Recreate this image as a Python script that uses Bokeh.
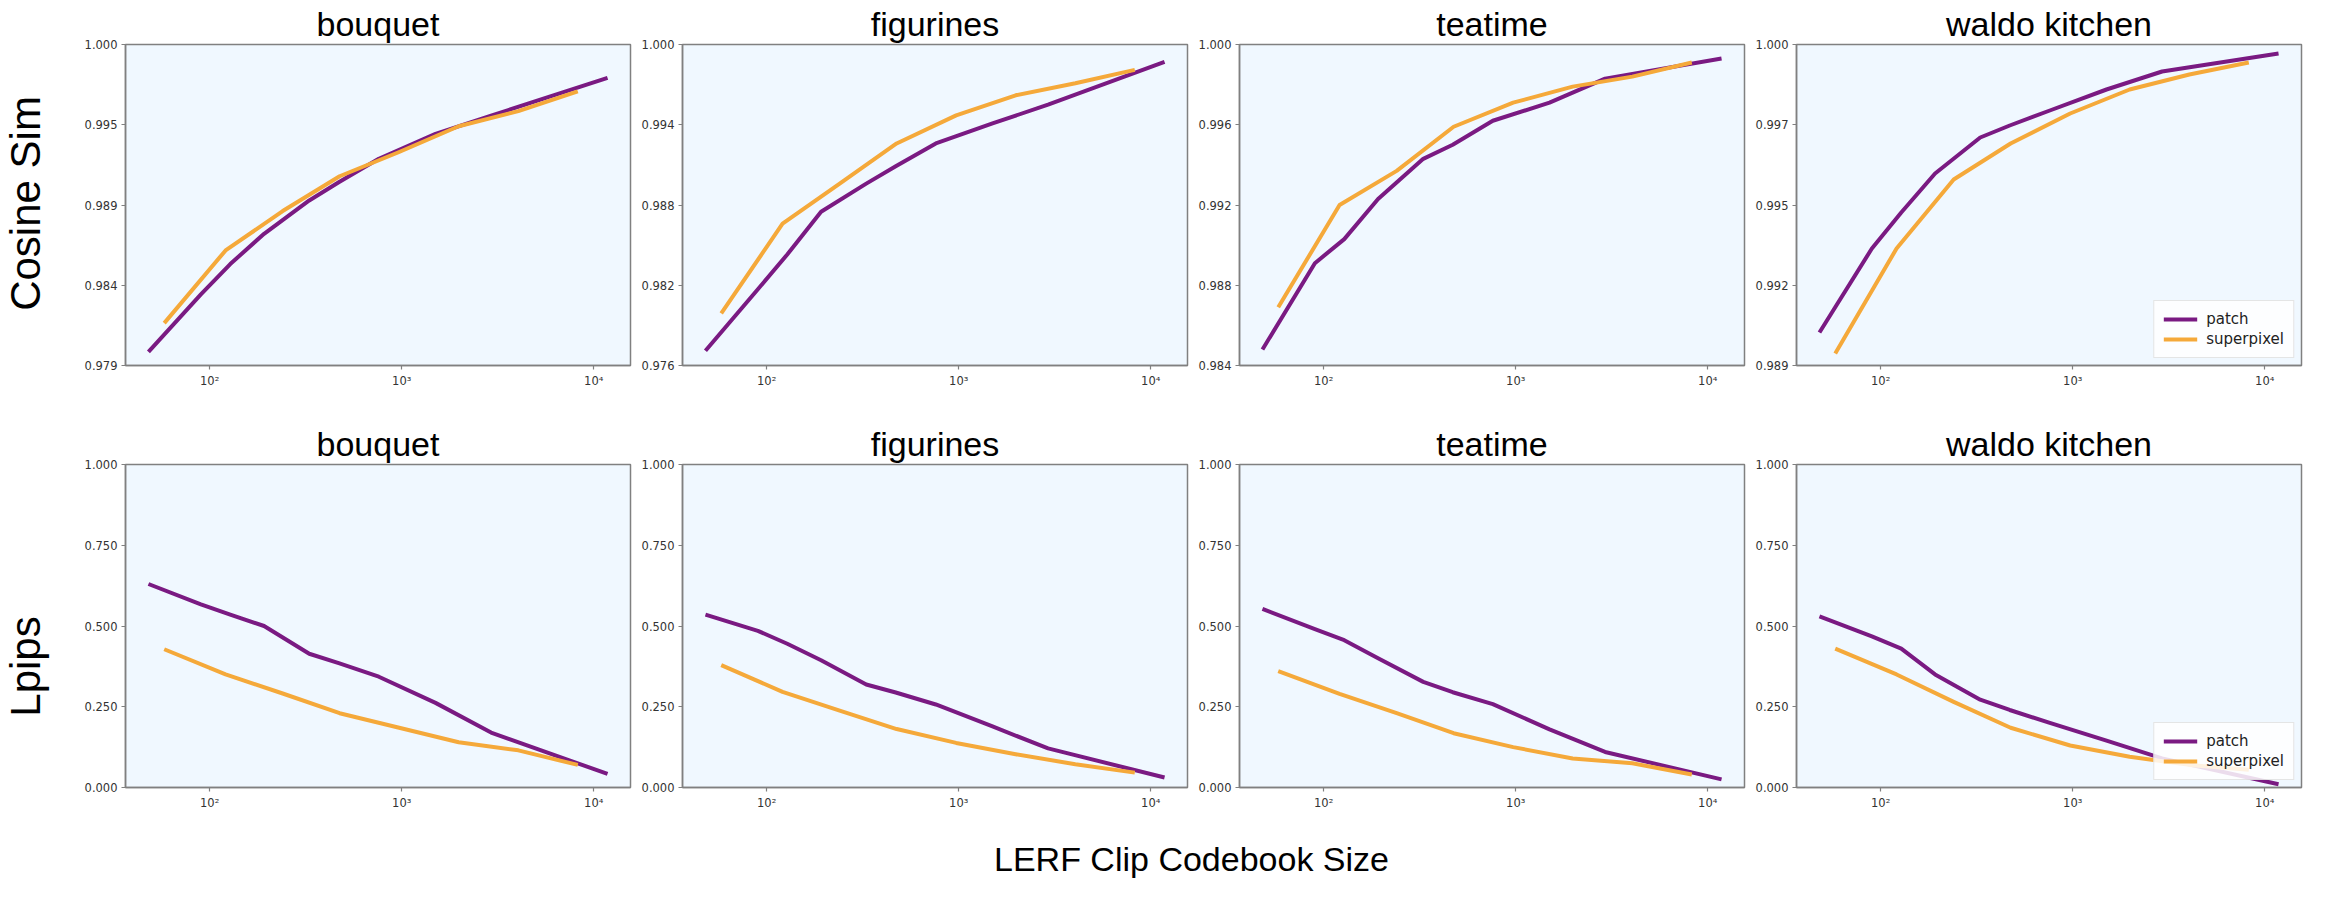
import math
from bokeh.plotting import figure
from bokeh.models import Range1d, FixedTicker, NumeralTickFormatter, Label
from bokeh.layouts import row, column
from bokeh.embed import file_html
from bokeh.resources import INLINE

# ---------------- data ----------------
scenes = ["bouquet", "figurines", "teatime", "waldo kitchen"]
series_labels = ["patch", "superpixel"]
row_labels = ["Cosine Sim", "Lpips"]
x_label = "LERF Clip Codebook Size"

codebook_patch = [48, 90, 128, 192, 330, 470, 760, 1500, 2920, 11800]
codebook_superpixel = [58, 121, 240, 475, 970, 1980, 4050, 8260]

cos_patch_bouquet = [0.9797, 0.9835, 0.9855, 0.9875, 0.9897, 0.9909, 0.99245, 0.9941, 0.9953, 0.9978]
cos_patch_figurines = [0.9771, 0.9817, 0.9843, 0.9875, 0.9896, 0.9909, 0.9926, 0.9941, 0.9955, 0.9987]
cos_patch_teatime = [0.9848, 0.9891, 0.9903, 0.9923, 0.9943, 0.9950, 0.9962, 0.9971, 0.9983, 0.9993]
cos_patch_waldo = [0.9904, 0.9932, 0.9944, 0.9957, 0.9969, 0.9973, 0.9978, 0.9985, 0.9991, 0.9997]

cos_sp_bouquet = [0.9816, 0.9864, 0.9890, 0.9913, 0.9929, 0.9946, 0.9956, 0.9969]
cos_sp_figurines = [0.9799, 0.9866, 0.9896, 0.9926, 0.9947, 0.9962, 0.9971, 0.9981]
cos_sp_teatime = [0.9869, 0.9920, 0.9937, 0.9959, 0.9971, 0.9979, 0.9984, 0.9991]
cos_sp_waldo = [0.9897, 0.9932, 0.9955, 0.9967, 0.9977, 0.9985, 0.9990, 0.9994]

lpips_patch_bouquet = [0.630, 0.567, 0.535, 0.500, 0.414, 0.385, 0.343, 0.262, 0.170, 0.042]
lpips_patch_figurines = [0.535, 0.485, 0.445, 0.394, 0.319, 0.294, 0.257, 0.189, 0.121, 0.031]
lpips_patch_teatime = [0.553, 0.490, 0.456, 0.400, 0.327, 0.295, 0.258, 0.180, 0.110, 0.025]
lpips_patch_waldo = [0.530, 0.468, 0.430, 0.350, 0.272, 0.240, 0.200, 0.145, 0.090, 0.010]

lpips_sp_bouquet = [0.428, 0.350, 0.291, 0.230, 0.185, 0.140, 0.115, 0.070]
lpips_sp_figurines = [0.379, 0.296, 0.238, 0.181, 0.138, 0.103, 0.072, 0.046]
lpips_sp_teatime = [0.360, 0.290, 0.230, 0.168, 0.125, 0.090, 0.075, 0.040]
lpips_sp_waldo = [0.430, 0.350, 0.265, 0.185, 0.130, 0.095, 0.070, 0.055]

cos_ymin = [0.9788, 0.976, 0.984, 0.9893]
lpips_ymin = [0.0, 0.0, 0.0, 0.0]
x_ticks = [100, 1000, 10000]
x_tick_labels = ["10²", "10³", "10⁴"]

cos_patch = [cos_patch_bouquet, cos_patch_figurines, cos_patch_teatime, cos_patch_waldo]
cos_sp = [cos_sp_bouquet, cos_sp_figurines, cos_sp_teatime, cos_sp_waldo]
lpips_patch = [lpips_patch_bouquet, lpips_patch_figurines, lpips_patch_teatime, lpips_patch_waldo]
lpips_sp = [lpips_sp_bouquet, lpips_sp_figurines, lpips_sp_teatime, lpips_sp_waldo]

# ---------------- style ----------------
PURPLE = "#7a1a82"
ORANGE = "#f5a93a"
SPINE = "#808080"
BG = "#f0f8ff"
TITLE_FONT = "Liberation Sans"
TICK_FONT = "DejaVu Sans"

allx = codebook_patch + codebook_superpixel
lx0, lx1 = math.log10(min(allx)), math.log10(max(allx))
pad = 0.05 * (lx1 - lx0)
x_lo, x_hi = 10 ** (lx0 - pad), 10 ** (lx1 + pad)

FRAME_W, FRAME_H = 505, 323
col_borders = [(55, 5), (47, 5), (47, 5), (47, 10)]
row_borders = [(42, 40), (59, 40)]


def make_panel(ci, ri, patch_vals, sp_vals, ymin):
    bl, br = col_borders[ci]
    bt, bb = row_borders[ri]
    p = figure(width=bl + FRAME_W + br, height=bt + FRAME_H + bb,
               x_axis_type="log", x_range=Range1d(x_lo, x_hi), y_range=Range1d(ymin, 1.0),
               output_backend="svg", toolbar_location=None,
               min_border_left=bl, min_border_right=br, min_border_top=bt, min_border_bottom=bb,
               title=scenes[ci])
    p.title.align = "center"
    p.title.text_font = TITLE_FONT
    p.title.text_font_size = "34px"
    p.title.text_font_style = "normal"
    p.title.text_color = "black"
    p.title.standoff = 4

    kw_p = dict(legend_label=series_labels[0]) if ci == 3 else {}
    kw_s = dict(legend_label=series_labels[1]) if ci == 3 else {}
    p.line(codebook_patch, patch_vals, line_color=PURPLE, line_width=4, line_join="round", **kw_p)
    p.line(codebook_superpixel, sp_vals, line_color=ORANGE, line_width=4, line_join="round", **kw_s)

    yt = [ymin + k * (1.0 - ymin) / 4 for k in range(5)]
    p.xaxis.ticker = FixedTicker(ticks=x_ticks)
    p.xaxis.major_label_overrides = {t: l for t, l in zip(x_ticks, x_tick_labels)}
    p.yaxis.ticker = FixedTicker(ticks=yt)
    p.yaxis.formatter = NumeralTickFormatter(format="0.000")
    for ax in p.axis:
        ax.axis_line_color = SPINE
        ax.axis_line_width = 1.5
        ax.major_tick_line_color = SPINE
        ax.major_tick_line_width = 1.2
        ax.major_tick_out = 4
        ax.major_tick_in = 0
        ax.minor_tick_line_color = None
        ax.major_label_text_font = TICK_FONT
        ax.major_label_text_font_size = "11.5px"
        ax.major_label_text_color = "#333333"
        ax.major_label_standoff = 4
    p.xgrid.visible = False
    p.ygrid.visible = False
    p.outline_line_color = SPINE
    p.outline_line_width = 1.5
    p.outline_line_alpha = 1.0
    p.background_fill_color = BG
    p.border_fill_color = "white"

    if ci == 3:
        lg = p.legend[0]
        lg.location = "bottom_right"
        lg.label_text_font = TICK_FONT
        lg.label_text_font_size = "15px"
        lg.label_text_color = "#222222"
        lg.glyph_width = 34
        lg.glyph_height = 16
        lg.label_standoff = 9
        lg.padding = 9
        lg.spacing = 2
        lg.margin = 7
        lg.border_line_color = "#cccccc"
        lg.border_line_width = 1
        lg.background_fill_alpha = 0.85
    return p


top = [make_panel(i, 0, cos_patch[i], cos_sp[i], cos_ymin[i]) for i in range(4)]
bottom = [make_panel(i, 1, lpips_patch[i], lpips_sp[i], lpips_ymin[i]) for i in range(4)]

grid_h = sum(t + FRAME_H + b for t, b in row_borders)
grid_w = sum(l + FRAME_W + r for l, r in col_borders)
LEFT_W = 70
XLAB_H = 60

lf = figure(width=LEFT_W, height=grid_h, x_range=Range1d(0, 1), y_range=Range1d(0, 1),
            output_backend="svg", toolbar_location=None, min_border=0,
            x_axis_type=None, y_axis_type=None, outline_line_color=None)
lf.add_layout(Label(x=25, y=grid_h - 203, x_units="screen", y_units="screen", text=row_labels[0],
                    angle=math.pi / 2, text_align="center", text_baseline="middle",
                    text_font=TITLE_FONT, text_font_size="42px", text_color="black"))
lf.add_layout(Label(x=25, y=grid_h - 666, x_units="screen", y_units="screen", text=row_labels[1],
                    angle=math.pi / 2, text_align="center", text_baseline="middle",
                    text_font=TITLE_FONT, text_font_size="42px", text_color="black"))

xf = figure(width=LEFT_W + grid_w, height=XLAB_H, x_range=Range1d(0, 1), y_range=Range1d(0, 1),
            output_backend="svg", toolbar_location=None, min_border=0,
            x_axis_type=None, y_axis_type=None, outline_line_color=None)
xf.add_layout(Label(x=1191, y=XLAB_H - 31, x_units="screen", y_units="screen", text=x_label,
                    text_align="center", text_baseline="middle",
                    text_font=TITLE_FONT, text_font_size="34px", text_color="black"))

layout = column(row(lf, column(row(*top), row(*bottom))), xf)

open("out.html", "w").write(file_html(layout, INLINE, title="LERF codebook size"))
